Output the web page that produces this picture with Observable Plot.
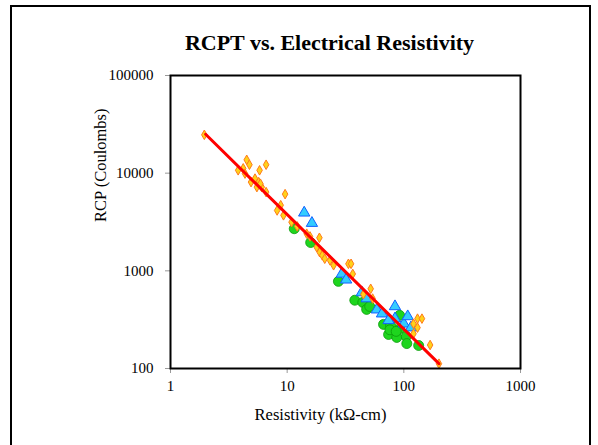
<!DOCTYPE html>
<html>
<head>
<meta charset="utf-8">
<script src="https://cdn.jsdelivr.net/npm/d3@7"></script>
<script src="https://cdn.jsdelivr.net/npm/@observablehq/plot@0.6"></script>
<style>
  html, body { margin: 0; padding: 0; background: #fff; }
  #wrap { position: relative; width: 598px; height: 445px; overflow: hidden; font-family: "Liberation Serif", "Times New Roman", serif; }
  #border { position: absolute; left: 10px; top: 5px; width: 581px; height: 460px; border-left: 2px solid #000; border-top: 2px solid #000; border-right: 2px solid #000; box-sizing: border-box; }
  #chart { position: absolute; left: 0; top: 0; }
</style>
</head>
<body>
<div id="wrap"><div id="border"></div><div id="chart"></div></div>
<script>
// Series: orange diamonds
const orangeX = [1.95, 3.8, 4.2, 4.35, 4.5, 4.75, 4.9, 5.3, 5.7, 5.8, 5.5, 6.05, 6.6, 6.6, 5.9,
  8.2, 8.8, 9.3, 9.6, 10.9, 12.2, 14.7, 15.7, 18.9, 17.9, 19, 20, 21, 23.3, 25,
  33.5, 35.3, 36.5, 45, 52, 54, 121, 131, 143, 131, 121, 168, 200];
const orangeY = [24700, 10700, 11200, 9900, 13700, 12200, 8100, 8800, 8100, 10700, 7200, 7200, 12200, 6400, 7800,
  4150, 4700, 3700, 6100, 3150, 2850, 2400, 2250, 2180, 1750, 1550, 1440, 1330, 1280, 1140,
  1180, 1180, 930, 575, 655, 520, 287, 324, 324, 262, 227, 174, 112];
// Series: blue triangles
const blueX = [14, 16.3, 29.4, 32, 43.6, 48, 58.7, 65, 84, 84, 100, 108, 115, 74];
const blueY = [3930, 3080, 930, 810, 600, 520, 400, 364, 432, 324, 287, 341, 262, 311];
// Series: green circles
const greenX = [11.5, 15.9, 27.5, 38, 44.5, 48, 51, 67, 77, 92, 92, 74, 87, 105, 106, 134, 76, 86];
const greenY = [2700, 1950, 780, 500, 475, 403, 432, 283, 276, 350, 255, 223, 208, 213, 180, 172, 249, 240];
// Trend line
const lineX = [2, 200];
const lineY = [25000, 112];
// Ticks
const xTicks = [1, 10, 100, 1000];
const yTicks = [100, 1000, 10000, 100000];

const toRows = (xs, ys) => xs.map((x, i) => ({x, y: ys[i]}));
const font = '"Liberation Serif", "Times New Roman", serif';

const chart = Plot.plot({
  width: 598,
  height: 445,
  marginLeft: 170,
  marginRight: 78,
  marginTop: 75,
  marginBottom: 77,
  style: {fontFamily: font, color: "#000", background: "transparent", overflow: "visible"},
  x: {type: "log", domain: [1, 1000]},
  y: {type: "log", domain: [100, 100000]},
  marks: [
    Plot.axisX({ticks: xTicks, tickFormat: d => String(d), tickSize: 5, tickPadding: 7, stroke: "#999", fill: "#000", fontSize: 15, label: null}),
    Plot.axisY({ticks: yTicks, tickFormat: d => String(d), tickSize: 5, tickPadding: 12, stroke: "#999", fill: "#000", fontSize: 15, label: null}),
    Plot.dot(toRows(greenX, greenY), {x: "x", y: "y", symbol: "circle", r: 5, fill: "#1ED51E", stroke: "#0A9A0A", strokeWidth: 0.8}),
    Plot.dot(toRows(blueX, blueY), {x: "x", y: "y", symbol: "triangle", r: 4.2, fill: "#33CCFF", stroke: "#1060FF", strokeWidth: 1}),
    Plot.dot(toRows(orangeX, orangeY), {x: "x", y: "y", symbol: "diamond", r: 2.9, fill: "#FFD21A", stroke: "#FF7A1A", strokeWidth: 1}),
    Plot.line(toRows(lineX, lineY), {x: "x", y: "y", stroke: "#FF0000", strokeWidth: 3}),
    Plot.frame({stroke: "#000", strokeWidth: 2}),
    Plot.text(["RCPT vs. Electrical Resistivity"], {frameAnchor: "top", dy: -41, dx: -16, fontSize: 22, fontWeight: "bold", fill: "#000"}),
    Plot.text(["Resistivity (kΩ-cm)"], {frameAnchor: "bottom", dy: 51, dx: -25, fontSize: 16.5, fill: "#000"}),
    Plot.text(["RCP (Coulombs)"], {frameAnchor: "left", dx: -70, rotate: -90, fontSize: 16.5, fill: "#000"})
  ]
});
document.getElementById("chart").appendChild(chart);
</script>
</body>
</html>
